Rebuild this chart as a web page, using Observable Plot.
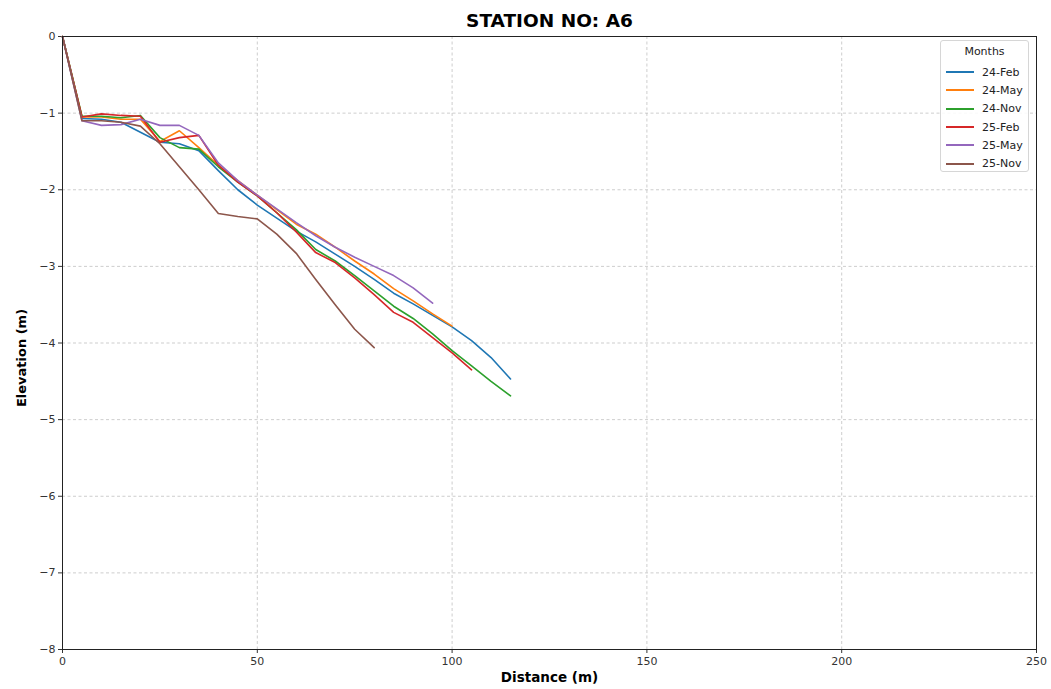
<!DOCTYPE html>
<html>
<head>
<meta charset="utf-8">
<script src="https://cdn.jsdelivr.net/npm/d3@7"></script>
<script src="https://cdn.jsdelivr.net/npm/@observablehq/plot@0.6"></script>
<style>
  html, body { margin: 0; padding: 0; background: #fff; }
  #wrap { position: relative; width: 1051px; height: 689px; font-family: "DejaVu Sans", sans-serif; }
  #legend { position: absolute; left: 940px; top: 40px; width: 89px; height: 132px; box-sizing: border-box;
            border: 1px solid #d6d6d6; border-radius: 3px; background: rgba(255,255,255,0.85);
            font-size: 11px; color: #222; }
  #legend .ttl { text-align: center; margin-top: 4px; height: 18px; }
  #legend .row { display: flex; align-items: center; height: 18.3px; }
  #legend .sw { width: 28px; height: 2px; margin-left: 5px; margin-right: 8px; }
</style>
</head>
<body>
<div id="wrap"><div id="legend"></div></div>
<script>
const months = ["24-Feb", "24-May", "24-Nov", "25-Feb", "25-May", "25-Nov"];
const colors = ["#1f77b4", "#ff7f0e", "#2ca02c", "#d62728", "#9467bd", "#8c564b"];
const xTicks = [0, 50, 100, 150, 200, 250];
const yTicks = [0, -1, -2, -3, -4, -5, -6, -7, -8];
const distance = [0,5,10,15,20,25,30,35,40,45,50,55,60,65,70,75,80,85,90,95,100,105,110,115];

const feb24 = [0,-1.07,-1.08,-1.12,-1.25,-1.38,-1.40,-1.49,-1.75,-2.00,-2.20,-2.37,-2.54,-2.68,-2.84,-3.00,-3.17,-3.35,-3.49,-3.64,-3.79,-3.97,-4.19,-4.47];
const may24 = [0,-1.05,-1.05,-1.08,-1.08,-1.37,-1.23,-1.45,-1.68,-1.88,-2.07,-2.26,-2.45,-2.58,-2.75,-2.93,-3.10,-3.29,-3.45,-3.62,-3.78];
const nov24 = [0,-1.04,-1.04,-1.06,-1.03,-1.32,-1.45,-1.47,-1.70,-1.90,-2.08,-2.30,-2.52,-2.78,-2.93,-3.12,-3.32,-3.52,-3.68,-3.88,-4.10,-4.30,-4.50,-4.69];
const feb25 = [0,-1.05,-1.01,-1.03,-1.04,-1.38,-1.32,-1.29,-1.68,-1.90,-2.08,-2.30,-2.55,-2.82,-2.95,-3.15,-3.37,-3.60,-3.73,-3.93,-4.13,-4.35];
const may25 = [0,-1.10,-1.16,-1.15,-1.08,-1.16,-1.16,-1.29,-1.65,-1.88,-2.07,-2.25,-2.43,-2.60,-2.75,-2.88,-3.00,-3.12,-3.28,-3.48];
const nov25 = [0,-1.10,-1.10,-1.12,-1.17,-1.40,-1.70,-2.00,-2.31,-2.35,-2.38,-2.58,-2.83,-3.17,-3.50,-3.82,-4.06];

const series = [feb24, may24, nov24, feb25, may25, nov25];
const rows = [];
series.forEach((vals, i) => vals.forEach((v, j) => rows.push({d: distance[j], e: v, m: months[i]})));

const fmt = d => d < 0 ? "\u2212" + Math.abs(d) : String(d);
const grid = {stroke: "#b0b0b0", strokeOpacity: 0.8, strokeDasharray: "3,2.5", strokeWidth: 0.8};

const chart = Plot.plot({
  width: 1051, height: 689,
  marginTop: 36, marginRight: 15, marginBottom: 40, marginLeft: 62,
  style: {fontFamily: "DejaVu Sans, sans-serif", background: "transparent"},
  x: {domain: [0, 250]},
  y: {domain: [-8, 0]},
  color: {domain: months, range: colors},
  marks: [
    Plot.gridX(xTicks, grid),
    Plot.gridY(yTicks, grid),
    Plot.axisX(xTicks, {tickSize: 4, tickPadding: 4, fontSize: 11, tickFormat: fmt, label: null, fill: "#333", stroke: "#333"}),
    Plot.axisY(yTicks, {tickSize: 4, tickPadding: 3, fontSize: 11, tickFormat: fmt, label: null, fill: "#333", stroke: "#333"}),
    Plot.line(rows, {x: "d", y: "e", z: "m", stroke: "m", strokeWidth: 1.6}),
    Plot.frame({stroke: "#222", strokeWidth: 1}),
    Plot.text(["STATION NO: A6"], {text: d => d, frameAnchor: "top", dy: -23, fontSize: 18.5, fontWeight: "bold", fill: "#000"}),
    Plot.text(["Distance (m)"], {text: d => d, frameAnchor: "bottom", dy: 32, fontSize: 13.5, fontWeight: "bold", fill: "#000"}),
    Plot.text(["Elevation (m)"], {text: d => d, frameAnchor: "left", textAnchor: "middle", dx: -41, dy: 15, rotate: -90, fontSize: 13, fontWeight: "bold", fill: "#000"})
  ]
});
chart.style.position = "absolute";
chart.style.left = "0px";
chart.style.top = "0px";
const wrap = document.getElementById("wrap");
wrap.insertBefore(chart, wrap.firstChild);

const legend = d3.select("#legend");
legend.append("div").attr("class", "ttl").text("Months");
months.forEach((m, i) => {
  const r = legend.append("div").attr("class", "row");
  r.append("div").attr("class", "sw").style("background", colors[i]);
  r.append("span").text(m);
});
</script>
</body>
</html>
